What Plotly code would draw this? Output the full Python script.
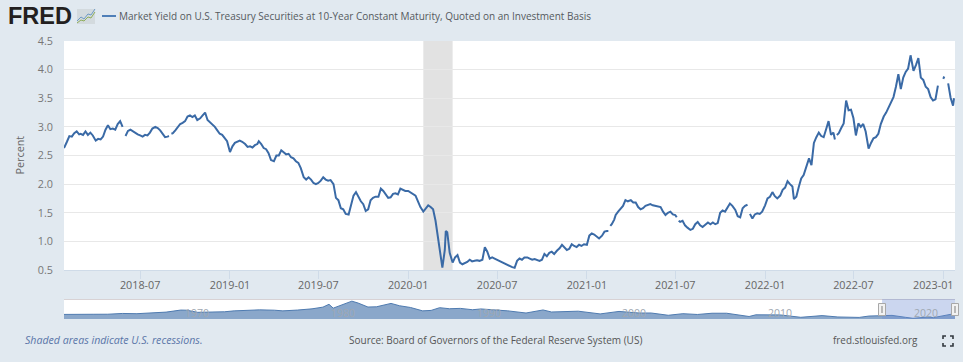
import plotly.graph_objects as go

W, H = 963, 362

# ---- main series: readings at days 1, 6, 11, 16, 21, 26 of each month (None = gap in the series)
months = [f"{y}-{m:02d}" for y in range(2018, 2024) for m in range(1, 13)
          if "2018-02" <= f"{y}-{m:02d}" <= "2023-01"]
slot_days = [1, 6, 11, 16, 21, 26]
values = [
    2.74, 2.84, 2.83, 2.89, 2.92, 2.87,
    2.88, 2.86, 2.92, 2.86, 2.90, 2.85,
    2.76, 2.79, 2.78, 2.83, 2.95, 3.03,
    2.96, 2.97, 2.95, 3.05, 3.10, 3.00,
    2.84, 2.93, 2.95, 2.92, 2.90, 2.87,
    2.85, 2.83, 2.86, 2.85, 2.90, 2.97,
    3.00, 2.98, 2.94, 2.87, 2.82, 2.83,
    None, 2.89, 2.94, 3.00, 3.05, 3.07,
    3.10, 3.18, 3.20, 3.17, 3.20, 3.12,
    3.15, 3.20, 3.25, 3.12, 3.08, 3.05,
    3.00, 2.94, 2.88, 2.86, 2.80, 2.75,
    2.56, 2.66, 2.72, 2.74, 2.76, 2.74,
    2.70, 2.65, 2.66, 2.64, 2.68, 2.70,
    2.75, 2.70, 2.63, 2.61, 2.54, 2.42,
    2.40, 2.50, 2.50, 2.59, 2.56, 2.52,
    2.53, 2.47, 2.45, 2.40, 2.37, 2.28,
    2.12, 2.08, 2.12, 2.08, 2.02, 2.00,
    2.02, 2.06, 2.12, 2.08, 2.06, 2.07,
    2.00, 1.76, 1.72, 1.58, 1.56, 1.48,
    1.47, 1.62, 1.80, 1.86, 1.78, 1.70,
    1.65, 1.53, 1.56, 1.72, 1.76, 1.78,
    1.78, 1.92, 1.88, 1.82, 1.76, 1.77,
    1.83, 1.84, 1.82, 1.92, 1.90, 1.88,
    1.88, 1.85, 1.82, 1.80, 1.70, 1.60,
    1.52, 1.58, 1.63, 1.60, 1.56, 1.36,
    1.10, 0.82, 0.54, 0.85, 1.16, 0.80,
    0.63, 0.72, 0.76, 0.63, 0.60, 0.62,
    0.64, 0.68, 0.65, 0.66, 0.67, 0.66,
    0.68, 0.90, 0.82, 0.70, 0.72, 0.70,
    0.68, 0.65, 0.63, 0.62, 0.60, 0.58,
    0.55, 0.54, 0.66, 0.70, 0.68, 0.72,
    0.72, 0.70, 0.68, 0.69, 0.68, 0.66,
    0.68, 0.78, 0.74, 0.80, 0.82, 0.78,
    0.84, 0.88, 0.94, 0.90, 0.85, 0.87,
    0.95, 0.92, 0.90, 0.94, 0.92, 0.95,
    0.94, 1.10, 1.14, 1.12, 1.09, 1.05,
    1.10, 1.17, 1.18, None, 1.30, 1.38,
    1.46, 1.52, 1.58, 1.62, 1.72, 1.70,
    1.72, 1.68, 1.68, 1.60, 1.56, 1.58,
    1.62, 1.64, 1.65, 1.63, 1.62, 1.60,
    1.60, 1.52, 1.46, 1.50, 1.52, 1.47,
    1.46, None, 1.34, 1.36, 1.28, 1.24,
    1.20, 1.22, 1.30, 1.34, 1.28, 1.25,
    1.30, 1.33, 1.30, 1.33, 1.30, 1.32,
    1.50, 1.54, 1.52, 1.60, 1.66, 1.62,
    1.55, 1.44, 1.42, 1.58, 1.62, 1.64,
    1.48, 1.40, 1.47, 1.49, 1.48, 1.52,
    1.63, 1.75, 1.78, 1.86, 1.79, 1.75,
    1.80, 1.90, 1.94, 2.05, 2.00, 1.96,
    1.74, 1.78, 1.95, 2.10, 2.16, 2.30,
    2.45, 2.33, 2.72, 2.82, 2.90, 2.84,
    2.82, 2.96, 3.10, 2.86, 2.90, None,
    2.89, 2.98, 3.06, 3.46, 3.29, 3.30,
    3.15, 2.85, 3.06, 3.00, 3.05, 2.92,
    2.62, 2.72, 2.80, 2.82, 2.88, 3.05,
    3.18, 3.25, 3.35, 3.43, 3.52, 3.70,
    3.92, 3.66, 3.86, 3.96, 4.02, 4.25,
    3.98, 4.08, 4.20, 3.86, 3.82, 3.70,
    3.66, 3.52, 3.46, 3.48, 3.72, None,
    3.84, None, 3.76, 3.51, 3.37, None,
]
extra_dates = ["2018-01-26", "2018-01-29", "2018-05-29", "2018-08-29", "2018-09-03", "2020-03-18",
               "2021-02-14", "2021-02-18", "2021-07-04", "2021-07-08", "2021-11-29",
               "2022-05-24", "2022-05-28", "2023-01-03", "2023-01-04", "2023-01-23"]
extra_values = [2.63, 2.70, None, 2.84, 2.88, 1.18,
                1.18, 1.27, 1.42, 1.36, None,
                2.78, 2.86, 3.88, None, 3.50]

recession_start = "2020-02-01"
recession_end = "2020-04-01"

y_ticks = [0.5, 1.0, 1.5, 2.0, 2.5, 3.0, 3.5, 4.0, 4.5]
x_ticks = ["2018-07-01", "2019-01-01", "2019-07-01", "2020-01-01", "2020-07-01",
           "2021-01-01", "2021-07-01", "2022-01-01", "2022-07-01", "2023-01-01"]
x_labels = ["2018-07", "2019-01", "2019-07", "2020-01", "2020-07",
            "2021-01", "2021-07", "2022-01", "2022-07", ""]
last_x_label = "2023-01"

# ---- navigator series (long history)
nav_dates = ["1962-01-02", "1963-01-01", "1964-01-01", "1965-01-01", "1966-01-01", "1967-01-01", "1968-01-01",
             "1969-01-01", "1970-01-01", "1970-06-01", "1971-03-01", "1972-01-01", "1973-01-01", "1973-09-01",
             "1974-08-01", "1975-06-01", "1976-06-01", "1977-01-01", "1978-01-01", "1979-01-01", "1979-10-01",
             "1980-03-01", "1980-06-15", "1981-01-01", "1981-09-25", "1982-03-01", "1982-11-01", "1983-06-01",
             "1984-06-01", "1985-01-01", "1985-10-01", "1986-08-01", "1987-03-01", "1987-10-01", "1988-06-01",
             "1989-03-01", "1990-01-01", "1990-08-01", "1991-06-01", "1992-06-01", "1993-09-01", "1994-11-01",
             "1995-06-01", "1996-06-01", "1997-04-01", "1998-10-01", "2000-01-15", "2001-06-01", "2002-04-01",
             "2003-06-01", "2004-06-01", "2005-06-01", "2006-06-01", "2007-06-01", "2008-12-15", "2009-06-01",
             "2010-04-01", "2011-02-01", "2012-07-01", "2013-12-15", "2015-01-15", "2016-07-01", "2017-03-01",
             "2018-10-01", "2019-09-01", "2020-03-09", "2021-03-01", "2021-08-01", "2022-10-20", "2023-01-24"]
nav_values = [4.06, 3.85, 4.18, 4.22, 4.9, 4.7, 5.6, 6.1, 7.9, 7.8, 5.9, 5.95, 6.4, 7.2,
              8.0, 8.1, 7.8, 7.2, 7.9, 9.0, 10.5, 13.0, 9.6, 12.2, 15.8, 14.1, 10.6, 10.8,
              13.8, 11.7, 10.2, 7.2, 7.6, 10.0, 9.1, 9.4, 8.2, 8.9, 8.2, 7.2, 5.3, 8.0,
              6.2, 6.9, 6.9, 4.5, 6.7, 5.3, 5.3, 3.3, 4.7, 4.0, 5.1, 5.1, 2.2, 3.7,
              3.9, 3.6, 1.5, 3.0, 1.8, 1.4, 2.6, 3.2, 1.5, 0.6, 1.7, 1.2, 4.2, 3.5]
nav_labels = ["1970", "1980", "1990", "2000", "2010", "2020"]
nav_label_dates = ["1970-01-01", "1980-01-01", "1990-01-01", "2000-01-01", "2010-01-01", "2020-01-01"]
window_start = "2018-01-26"
window_end = "2023-01-25"

# ---- texts
title_text = "Market Yield on U.S. Treasury Securities at 10-Year Constant Maturity, Quoted on an Investment Basis"
y_title = "Percent"
recession_note = "Shaded areas indicate U.S. recessions."
source_note = "Source: Board of Governors of the Federal Reserve System (US)"
site_note = "fred.stlouisfed.org"

# ---- assemble
pairs = [(f"{m}-{d:02d}", None) for m in months for d in slot_days]
pairs = [(p[0], v) for p, v in zip(pairs, values)] + list(zip(extra_dates, extra_values))
pairs.sort(key=lambda p: p[0])
dates = [p[0] for p in pairs]
yields = [p[1] for p in pairs]

BG = "#e1e9f0"
LINE = "#3a6aa6"
FONT = "Open Sans"


def px(x):
    return x / W


def py(y):
    return 1 - y / H


fig = go.Figure()
fig.add_trace(go.Scatter(x=dates, y=yields, mode="lines", line=dict(color=LINE, width=2),
                         connectgaps=False, hoverinfo="skip", showlegend=False, xaxis="x", yaxis="y"))
fig.add_trace(go.Scatter(x=nav_dates, y=nav_values, mode="lines", fill="tozeroy",
                         line=dict(color="#4f7bb0", width=1), fillcolor="#8aa7ca",
                         hoverinfo="skip", showlegend=False, xaxis="x2", yaxis="y2"))

shapes = [
    # recession band
    dict(type="rect", xref="x", yref="paper", x0=recession_start, x1=recession_end,
         y0=py(270), y1=py(41), fillcolor="#e2e2e2", line_width=0, layer="below"),
    # navigator top rule
    dict(type="line", xref="paper", yref="paper", x0=px(64), x1=px(955), y0=py(299.5), y1=py(299.5),
         line=dict(color="#d8d2d4", width=1)),
    # navigator window
    dict(type="rect", xref="x2", yref="paper", x0=window_start, x1=window_end, y0=py(319), y1=py(299),
         fillcolor="rgba(110,140,210,0.36)", line_width=0),
    # legend dash
    dict(type="line", xref="paper", yref="paper", x0=px(102), x1=px(116), y0=py(16), y1=py(16),
         line=dict(color="#4f7fb8", width=2)),
]
# navigator handles
for hx in (882, 955):
    shapes.append(dict(type="rect", xref="paper", yref="paper", x0=px(hx - 3.5), x1=px(hx + 3.5),
                       y0=py(315.5), y1=py(303.5), fillcolor="#f2f2f2", line=dict(color="#a8a8a8", width=1)))
    shapes.append(dict(type="line", xref="paper", yref="paper", x0=px(hx), x1=px(hx),
                       y0=py(313), y1=py(306), line=dict(color="#b8b8b8", width=2)))


def pth(points):
    return "M" + " L".join(f"{px(a):.5f},{py(b):.5f}" for a, b in points)


# logo icon
shapes.append(dict(type="rect", xref="paper", yref="paper", x0=px(77), x1=px(95), y0=py(24), y1=py(9),
                   fillcolor="#d3dade", line_width=0))
shapes.append(dict(type="path", xref="paper", yref="paper",
                   path=pth([(77, 21), (81, 17), (84, 19), (88, 14), (91, 15), (95, 9)]),
                   line=dict(color="#6d9ac4", width=1)))
shapes.append(dict(type="path", xref="paper", yref="paper",
                   path=pth([(77, 23), (81, 20), (84, 21), (88, 17), (91, 18), (95, 12)]),
                   line=dict(color="#8fae5a", width=1)))
# fullscreen icon corners
for a, b, c in [((943, 339), (943, 336), (946, 336)), ((950, 336), (953, 336), (953, 339)),
                ((943, 343), (943, 346), (946, 346)), ((950, 346), (953, 346), (953, 343))]:
    shapes.append(dict(type="path", xref="paper", yref="paper", path=pth([a, b, c]),
                       line=dict(color="#33393f", width=1.6)))


def note(text, x, y, size, color, anchor="left", **kw):
    return dict(text=text, xref="paper", yref="paper", x=px(x), y=py(y), xanchor=anchor, yanchor="middle",
                showarrow=False, font=dict(family=kw.pop("family", FONT), size=size, color=color), **kw)


annotations = [
    note("<b>FRED</b>", 6, 16, 23.5, "#231f20", family="Liberation Sans"),
    note(title_text, 117, 16.5, 10.0, "#55595e"),
    note(y_title, 18.5, 155, 10.8, "#666666", anchor="center", textangle=-90),
    note(f"<i>{recession_note}</i>", 23, 340, 10.6, "#5a75a8"),
    note(source_note, 346.5, 340, 10.0, "#555555"),
    note(site_note, 831, 340, 9.9, "#555555"),
    note(last_x_label, 956, 284, 10.8, "#666666", anchor="right"),
]
for lab, d in zip(nav_labels, nav_label_dates):
    annotations.append(dict(text=lab, xref="x2", yref="paper", x=d, y=py(312.5), xanchor="left", yanchor="middle",
                            xshift=2, showarrow=False, font=dict(family=FONT, size=10.5, color="#9fa8b2")))

fig.update_layout(
    width=W, height=H, margin=dict(l=0, r=0, t=0, b=0, autoexpand=False), autosize=False,
    paper_bgcolor=BG, plot_bgcolor="#ffffff", showlegend=False,
    font=dict(family=FONT, size=10.8, color="#666666"),
    xaxis=dict(domain=[px(64), px(955)], anchor="y", range=["2018-01-26", "2023-01-25"], type="date",
               tickmode="array", tickvals=x_ticks, ticktext=x_labels, ticks="outside", ticklen=8,
               tickcolor="#cfdbe8", tickwidth=1, showgrid=False, showline=True, linecolor="#cfdbe8",
               linewidth=1, zeroline=False, tickfont=dict(size=10.8, color="#666666"),
               ticklabeloverflow="allow", ticklabelstandoff=-3),
    yaxis=dict(domain=[py(270), py(41)], anchor="x", range=[0.5, 4.5], tickmode="array", tickvals=y_ticks,
               ticktext=[f"{v:.1f}" for v in y_ticks], showgrid=True, gridcolor="#e8e8e8", gridwidth=1,
               zeroline=False, showline=False, ticks="", ticklabelstandoff=10,
               tickfont=dict(size=10.8, color="#777777")),
    xaxis2=dict(domain=[px(64), px(955)], anchor="y2", range=["1962-01-02", "2023-01-25"], type="date",
                showticklabels=False, ticks="", showgrid=False, zeroline=False, showline=False),
    yaxis2=dict(domain=[py(319), py(299)], anchor="x2", range=[0, 17.7], showticklabels=False, ticks="",
                showgrid=False, zeroline=False, showline=False),
    shapes=shapes, annotations=annotations,
)

fig.write_html("out.html", config={"displayModeBar": False},
               post_script="document.body.style.margin='0';document.body.style.overflow='hidden';")
